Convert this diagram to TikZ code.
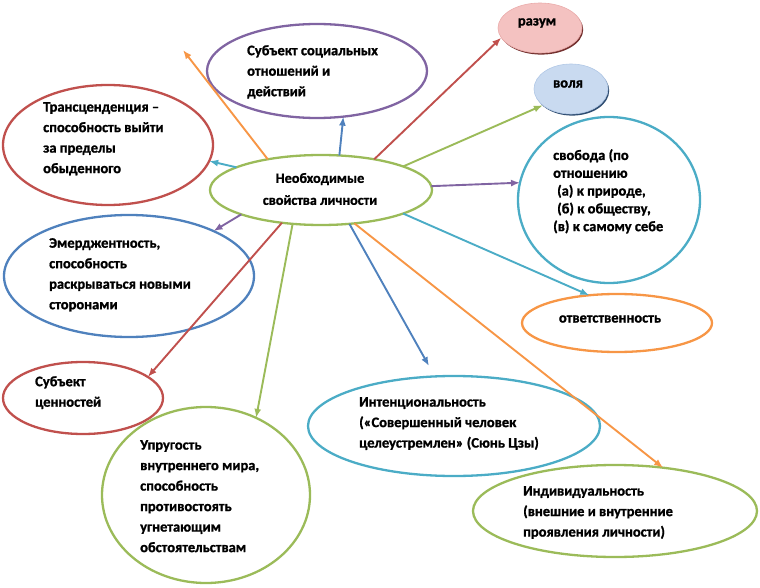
\documentclass[tikz,border=0pt]{standalone}
\usepackage{fontspec}
\setmainfont{Carlito}[BoldFeatures={FakeBold=1.2}]
\usetikzlibrary{shapes.geometric,arrows.meta,shadows}
\definecolor{ored}{HTML}{C0504D}
\definecolor{opurple}{HTML}{8064A2}
\definecolor{oblue}{HTML}{4F81BD}
\definecolor{ogreen}{HTML}{9BBB59}
\definecolor{ocyan}{HTML}{4BACC6}
\definecolor{oorange}{HTML}{F79646}
\definecolor{pinkfill}{HTML}{F4C2C1}
\definecolor{bluefill}{HTML}{C9DAF0}
\tikzset{
  ell/.style={ellipse, draw, line width=2.3pt, outer sep=0pt, inner sep=0pt},
  txt/.style={anchor=north west, align=left, inner sep=0pt, font=\bfseries\fontsize{14.5}{20.5}\selectfont},
  lone/.style={font=\bfseries\fontsize{14.5}{16}\selectfont, inner sep=0pt},
  arr/.style={line width=1.9pt, -{Latex[length=9pt,width=7pt]}},
}
\begin{document}
\begin{tikzpicture}[x=1pt,y=-1pt]
\useasboundingbox (0,0) rectangle (760,588);
% ellipses
\node[ell, draw=ogreen, minimum width=222pt, minimum height=70pt] (c) at (321,190) {};
\node[ell, draw=opurple, minimum width=220pt, minimum height=94pt] (soc) at (317,71) {};
\node[ell, draw=ored, minimum width=210pt, minimum height=120pt] (tra) at (108,145) {};
\node[ellipse, inner sep=0pt, outer sep=0pt, fill=pinkfill, draw=pinkfill!80!ored, line width=0.6pt, minimum width=84pt, minimum height=50pt,
      drop shadow={shadow xshift=1.2pt, shadow yshift=-1.6pt, fill=ored!60!black, opacity=1}] (raz) at (540,28) {};
\node[ellipse, inner sep=0pt, outer sep=0pt, fill=bluefill, draw=bluefill!80!oblue, line width=0.6pt, minimum width=74pt, minimum height=50pt,
      drop shadow={shadow xshift=1.2pt, shadow yshift=-1.6pt, fill=oblue!60!black, opacity=1}] (vol) at (571,89) {};
\node[ell, draw=ocyan, minimum width=182pt, minimum height=166pt] (svo) at (609,200) {};
\node[ell, draw=oorange, minimum width=190pt, minimum height=58pt] (otv) at (617,323) {};
\node[ell, draw=oblue, minimum width=250pt, minimum height=122pt] (eme) at (129,276) {};
\node[ell, draw=ored, minimum width=160pt, minimum height=72pt] (cen) at (83,398) {};
\node[ell, draw=ogreen, minimum width=208pt, minimum height=176pt] (upr) at (206,495) {};
\node[ell, draw=ocyan, minimum width=292pt, minimum height=100pt] (int) at (454,426) {};
\node[ell, draw=ogreen, minimum width=284pt, minimum height=92pt] (ind) at (615,511) {};
% texts
\node[align=center, inner sep=0pt, font=\bfseries\fontsize{14.2}{22}\selectfont] (ct) at (320,189) {Необходимые\\свойства личности};
\node[txt] (soct) at (247,45) {Субъект социальных\\отношений и\\действий};
\node[txt] (trat) at (43,102) {Трансценденция –\\способность выйти\\за пределы\\обыденного};
\node[lone] (razt) at (537,23) {разум};
\node[lone] (volt) at (568,84) {воля};
\node[txt, font=\bfseries\fontsize{14.5}{17.8}\selectfont] (svot) at (553,149) {свобода (по\\отношению\\\hspace*{4pt}(а) к природе,\\\hspace*{4pt}(б) к обществу,\\(в) к самому себе};
\node[lone] (otvt) at (610,319) {ответственность};
\node[txt] (emet) at (49,238) {Эмерджентность,\\способность\\раскрываться новыми\\сторонами};
\node[txt] (cent) at (35,376) {Субъект\\ценностей};
\node[txt] (uprt) at (140,440) {Упругость\\внутреннего мира,\\способность\\противостоять\\угнетающим\\обстоятельствам};
\node[txt] (intt) at (359,397) {Интенциональность\\(«Совершенный человек\\целеустремлен» (Сюнь Цзы)};
\node[txt] (indt) at (523,486) {Индивидуальность\\(внешние и внутренние\\проявления личности)};
% free ends
\coordinate (f1) at (183,50);
\coordinate (f2) at (429,366);
% arrows
\draw[arr, oorange] (c.150) -- (f1);
\draw[arr, oblue] (c.62) -- (soc.-60);
\draw[arr, ored] (c.30) -- (raz.194);
\draw[arr, ogreen] (c.16) -- (vol.210);
\draw[arr, opurple] (c.2) -- (svo.169);
\draw[arr, ocyan] (c.-16) -- (otv.135);
\draw[arr, oorange] (c.-45) -- (ind.42);
\draw[arr, oblue] (c.-50) -- (f2);
\draw[arr, ogreen] (c.-130) -- (upr.57);
\draw[arr, ored] (c.-140) -- (cen.18);
\draw[arr, opurple] (c.-163) -- (eme.28);
\draw[arr, ocyan] (c.165) -- (tra.-9);
\end{tikzpicture}
\end{document}
